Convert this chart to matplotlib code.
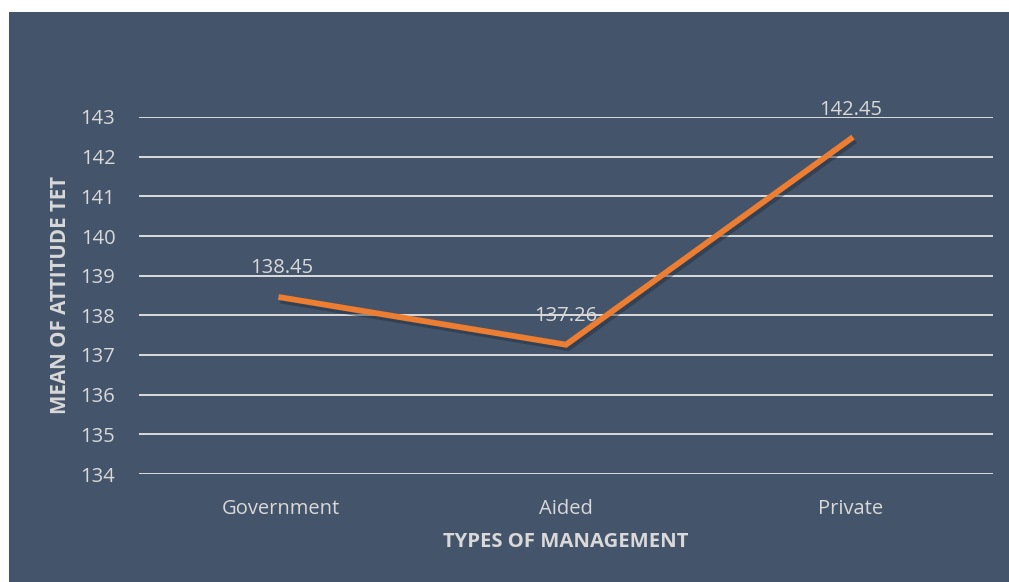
import matplotlib.pyplot as plt
import matplotlib.patheffects as pe
from matplotlib.patches import Rectangle

categories = ["Government", "Aided", "Private"]
means = [138.45, 137.26, 142.45]
y_ticks = [134, 135, 136, 137, 138, 139, 140, 141, 142, 143]

panel = "#44546A"
text_col = "#D9D9D9"
orange = "#ED7D31"

plt.rcParams["font.family"] = ["Open Sans", "DejaVu Sans"]

fig = plt.figure(figsize=(10.09, 5.82), dpi=100)
fig.patch.set_facecolor("white")
fig.patches.append(Rectangle((9 / 1009, 0), 1, 1 - 12 / 582, transform=fig.transFigure,
                             facecolor=panel, edgecolor="none", zorder=-10))

ax = fig.add_axes([139 / 1009, 1 - 474 / 582, (993 - 139) / 1009, (474 - 117) / 582])
ax.set_facecolor("none")

x = list(range(len(categories)))
ax.plot(x, means, color=orange, linewidth=4.2, solid_joinstyle="miter", zorder=3,
        path_effects=[pe.SimpleLineShadow(offset=(1.5, -2.5), shadow_color="#1F2A3A", alpha=0.45),
                      pe.Normal()])

for xi, v in zip(x, means):
    ax.annotate(f"{v:.2f}", (xi, v), xytext=(0, 21), textcoords="offset points",
                ha="center", va="center", color=text_col, fontsize=14.5, zorder=4)

ax.set_xlim(-0.5, 2.5)
ax.set_ylim(134, 143)
ax.set_yticks(y_ticks)
ax.set_xticks(x)
ax.set_xticklabels(categories)
ax.grid(axis="y", color="#E6E6E6", linewidth=1.3)
ax.set_axisbelow(True)
ax.tick_params(axis="both", length=0, colors=text_col, labelsize=14.5)
ax.tick_params(axis="y", pad=17)
ax.tick_params(axis="x", pad=18)
for s in ax.spines.values():
    s.set_visible(False)

ax.set_xlabel("TYPES OF MANAGEMENT", color=text_col, fontsize=14.6, fontweight="bold", va="center")
ax.set_ylabel("MEAN OF ATTITUDE TET", color=text_col, fontsize=14.8, fontweight="bold", va="center")
ax.xaxis.set_label_coords(0.5, -(542 - 474) / 357)
ax.yaxis.set_label_coords(-(139 - 60) / 854, 0.5)

fig.savefig("out.png", dpi=100)
